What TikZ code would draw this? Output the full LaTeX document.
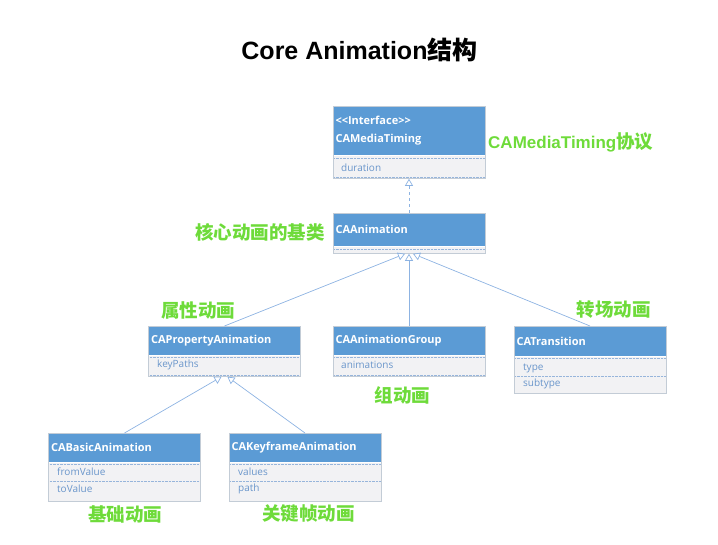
\documentclass[tikz,border=0pt]{standalone}
\usepackage{fontspec}
\setmainfont{Open Sans}
\newfontfamily\cjk{Noto Sans CJK SC}
\newfontfamily\arialfont{Liberation Sans}
\usetikzlibrary{positioning, arrows.meta}

\definecolor{hdrblue}{HTML}{5B9BD5}
\definecolor{bodygray}{HTML}{F2F2F4}
\definecolor{edgeblue}{HTML}{8DB3E2}
\definecolor{attrblue}{HTML}{6A96CB}
\definecolor{labelgreen}{HTML}{6EDB3A}
\definecolor{boxframe}{HTML}{C3CCD6}

\begin{document}
\begin{tikzpicture}[
  x=1pt, y=-1pt,
  every node/.style={inner sep=0pt},
  hdr/.style={fill=hdrblue, text=white, anchor=north,
    font=\bfseries\fontsize{11}{18}\selectfont,
    minimum width=152pt, text width=147pt, align=left},
  body/.style={fill=bodygray, minimum width=152pt},
  attr/.style={text=attrblue, anchor=west,
    font=\fontsize{10}{12}\selectfont},
  sep/.style={draw=attrblue!70, densely dotted, line width=0.4pt},
  frm/.style={draw=boxframe, line width=0.6pt},
  lbl/.style={text=labelgreen, font=\cjk\bfseries\fontsize{18.5}{20}\selectfont},
  inh/.style={draw=edgeblue, line width=0.7pt,
    -{Triangle[open, length=7pt, width=8pt]}},
]
\useasboundingbox (0,0) rectangle (718,545);

%% Title
\node[font=\arialfont\bfseries\fontsize{25}{28}\selectfont] (title) at (359.5,50)
  {Core Animation{\cjk 结构}};

%% CAMediaTiming (interface)
\node[hdr, minimum height=49pt] (timing) at (409,106)
  {<\kern0pt<Interface>\kern0pt>\\CAMediaTiming};
\node[body, minimum height=23pt, below=0pt of timing] (timingbody) {};
\node[attr] (timingdur) at (341,168) {duration};
\draw[sep] ([yshift=-3pt]timingbody.north west) -- ([yshift=-3pt]timingbody.north east);
\draw[sep] ([yshift=2pt]timingbody.south west) -- ([yshift=2pt]timingbody.south east);
\draw[frm] (timing.north west) rectangle (timingbody.south east);

%% CAAnimation
\node[hdr, minimum height=33pt] (anim) at (409,213) {CAAnimation};
\node[body, minimum height=7pt, below=0pt of anim] (animbody) {};
\draw[sep] ([yshift=-3pt]animbody.north west) -- ([yshift=-3pt]animbody.north east);
\draw[frm] (anim.north west) rectangle (animbody.south east);

%% CAPropertyAnimation
\node[hdr, minimum height=29pt] (prop) at (224.5,326) {CAPropertyAnimation};
\node[body, minimum height=21pt, below=0pt of prop] (propbody) {};
\node[attr] (propkeys) at (157,365) {keyPaths};
\draw[sep] ([yshift=-2pt]propbody.north west) -- ([yshift=-2pt]propbody.north east);
\draw[sep] ([yshift=2pt]propbody.south west) -- ([yshift=2pt]propbody.south east);
\draw[frm] (prop.north west) rectangle (propbody.south east);

%% CAAnimationGroup
\node[hdr, minimum height=29pt] (group) at (409,326) {CAAnimationGroup};
\node[body, minimum height=21pt, below=0pt of group] (groupbody) {};
\node[attr] (groupanims) at (341,365) {animations};
\draw[sep] ([yshift=-2pt]groupbody.north west) -- ([yshift=-2pt]groupbody.north east);
\draw[sep] ([yshift=2pt]groupbody.south west) -- ([yshift=2pt]groupbody.south east);
\draw[frm] (group.north west) rectangle (groupbody.south east);

%% CATransition
\node[hdr, minimum height=30pt] (trans) at (590,326) {CATransition};
\node[body, minimum height=37pt, below=0pt of trans] (transbody) {};
\node[attr] (transtype) at (523,368) {type};
\node[attr] (transsub)  at (523,384) {subtype};
\draw[sep] ([yshift=-2pt]transbody.north west) -- ([yshift=-2pt]transbody.north east);
\draw[sep] (transbody.west |- 0,376) -- (transbody.east |- 0,376);
\draw[frm] (trans.north west) rectangle (transbody.south east);

%% CABasicAnimation
\node[hdr, minimum height=29pt] (basic) at (124.5,433) {CABasicAnimation};
\node[body, minimum height=38pt, below=0pt of basic] (basicbody) {};
\node[attr] (basicfrom) at (57,472) {fromValue};
\node[attr] (basicto)   at (57,489) {toValue};
\draw[sep] ([yshift=-2pt]basicbody.north west) -- ([yshift=-2pt]basicbody.north east);
\draw[sep] (basicbody.west |- 0,481) -- (basicbody.east |- 0,481);
\draw[frm] (basic.north west) rectangle (basicbody.south east);

%% CAKeyframeAnimation
\node[hdr, minimum height=29pt] (keyframe) at (305,433) {CAKeyframeAnimation};
\node[body, minimum height=38pt, below=0pt of keyframe] (keyframebody) {};
\node[attr] (keyframevalues) at (238,472) {values};
\node[attr] (keyframepath)   at (238,489) {path};
\draw[sep] ([yshift=-2pt]keyframebody.north west) -- ([yshift=-2pt]keyframebody.north east);
\draw[sep] (keyframebody.west |- 0,481) -- (keyframebody.east |- 0,481);
\draw[frm] (keyframe.north west) rectangle (keyframebody.south east);

%% Inheritance / realization
\draw[inh, dashed] (anim.north) -- (timingbody.south);
\draw[inh] (prop.north) -- ([xshift=-4pt]animbody.south);
\draw[inh] (group.north) -- (animbody.south);
\draw[inh] (trans.north) -- ([xshift=4pt]animbody.south);
\draw[inh] (basic.north) -- ([xshift=-3pt]propbody.south);
\draw[inh] (keyframe.north) -- ([xshift=3pt]propbody.south);

%% Green notes
\node[lbl, anchor=west] (timinglbl) at (488,142)
  {{\arialfont\fontsize{17}{20}\selectfont CAMediaTiming}协议};
\node[lbl, anchor=east] (animlbl) at (325,232) {核心动画的基类};
\node[lbl] (proplbl) at (198,310) {属性动画};
\node[lbl] (translbl) at (613.5,310) {转场动画};
\node[lbl] (grouplbl) at (402.5,395) {组动画};
\node[lbl] (basiclbl) at (125,514) {基础动画};
\node[lbl] (keyframelbl) at (308.5,514) {关键帧动画};

\end{tikzpicture}
\end{document}
